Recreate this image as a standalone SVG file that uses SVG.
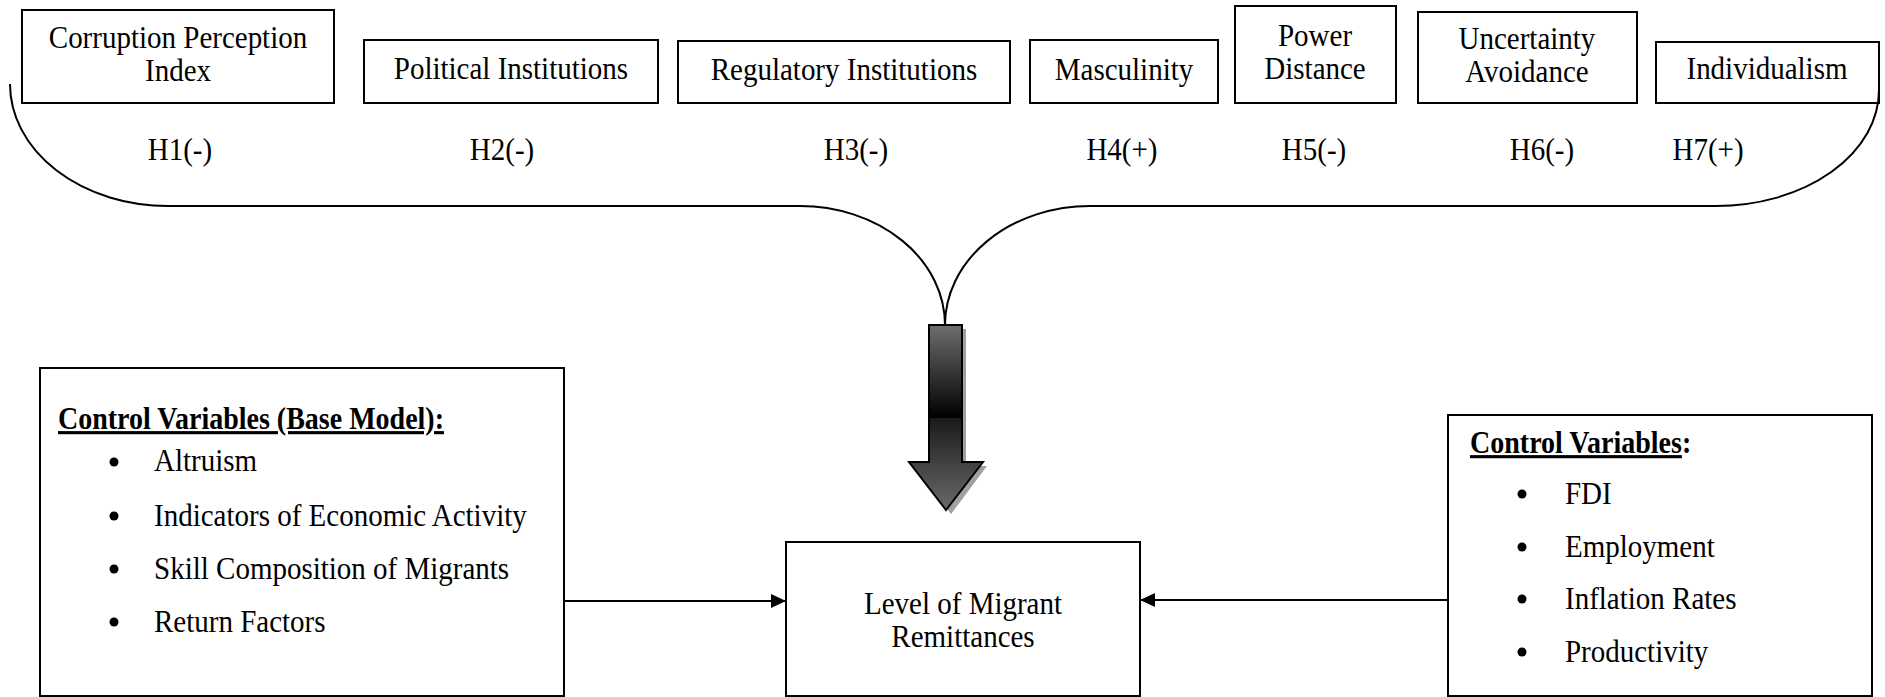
<svg xmlns="http://www.w3.org/2000/svg" width="1885" height="697" viewBox="0 0 1885 697">
<style>
.box{fill:#fff;stroke:#000;stroke-width:2}
.t{font-family:'Liberation Serif','Times New Roman',serif;font-size:32.4px;fill:#000}
.c{text-anchor:middle}
.b{font-weight:bold;font-size:31.3px}
.u{text-decoration:underline}
.conn{fill:none;stroke:#000;stroke-width:2}
.dot{fill:#000}
</style>
<defs>
<marker id="ah" markerUnits="userSpaceOnUse" markerWidth="16" markerHeight="14" refX="15" refY="7" orient="auto">
<path d="M0,0 L15,7 L0,14 Z" fill="#000"/>
</marker>
<linearGradient id="g1" gradientUnits="userSpaceOnUse" x1="0" y1="325" x2="0" y2="510">
<stop offset="0" stop-color="#6e6e6e"/>
<stop offset="0.5" stop-color="#000"/>
<stop offset="0.505" stop-color="#1a1a1a"/>
<stop offset="1" stop-color="#6a6a6a"/>
</linearGradient>
</defs>

<g id="n1"><rect class="box" x="22" y="10" width="312" height="93"/>
<text class="t c" transform="scale(0.895 1)" x="198.9" y="48">Corruption Perception</text>
<text class="t c" transform="scale(0.895 1)" x="198.9" y="81">Index</text></g>
<g id="n2"><rect class="box" x="364" y="40" width="294" height="63"/>
<text class="t c" transform="scale(0.895 1)" x="570.9" y="79">Political Institutions</text></g>
<g id="n3"><rect class="box" x="678" y="41" width="332" height="62"/>
<text class="t c" transform="scale(0.895 1)" x="943" y="80">Regulatory Institutions</text></g>
<g id="n4"><rect class="box" x="1030" y="40" width="188" height="63"/>
<text class="t c" transform="scale(0.895 1)" x="1255.9" y="80">Masculinity</text></g>
<g id="n5"><rect class="box" x="1235" y="6" width="161" height="97"/>
<text class="t c" transform="scale(0.895 1)" x="1469.3" y="46">Power</text>
<text class="t c" transform="scale(0.895 1)" x="1469.3" y="79">Distance</text></g>
<g id="n6"><rect class="box" x="1418" y="12" width="219" height="91"/>
<text class="t c" transform="scale(0.895 1)" x="1706.1" y="49">Uncertainty</text>
<text class="t c" transform="scale(0.895 1)" x="1706.1" y="82">Avoidance</text></g>
<g id="n7"><rect class="box" x="1656" y="42" width="223" height="61"/>
<text class="t c" transform="scale(0.895 1)" x="1974.3" y="79">Individualism</text></g>

<g id="hyp">
<text class="t c" transform="scale(0.895 1)" x="201.1" y="160">H1(-)</text>
<text class="t c" transform="scale(0.895 1)" x="560.9" y="160">H2(-)</text>
<text class="t c" transform="scale(0.895 1)" x="956.4" y="160">H3(-)</text>
<text class="t c" transform="scale(0.895 1)" x="1253.6" y="160">H4(+)</text>
<text class="t c" transform="scale(0.895 1)" x="1468.2" y="160">H5(-)</text>
<text class="t c" transform="scale(0.895 1)" x="1722.9" y="160">H6(-)</text>
<text class="t c" transform="scale(0.895 1)" x="1908.4" y="160">H7(+)</text>
</g>

<g id="brace">
<path class="conn" d="M10,84 A158,122 0 0 0 168,206 L800,206 A145,119 0 0 1 945,325"/>
<path class="conn" d="M1879,90 A163,116 0 0 1 1716,206 L1090,206 A145,119 0 0 0 945,325"/>
</g>

<g id="bigarrow">
<path d="M933,329 L966,329 L966,466 L987,466 L951,514 L915,466 L933,466 Z" fill="#888" opacity="0.8"/>
<path d="M929,325 L962,325 L962,462 L983,462 L946,510 L909,462 L929,462 Z" fill="url(#g1)" stroke="#000" stroke-width="2"/>
</g>

<g id="left">
<rect class="box" x="40" y="368" width="524" height="328"/>
<text class="t b u" transform="scale(0.895 1)" x="64.8" y="429">Control Variables (Base Model):</text>
<circle class="dot" cx="114" cy="462" r="4.5"/><text class="t" transform="scale(0.895 1)" x="172.1" y="471">Altruism</text>
<circle class="dot" cx="114" cy="516" r="4.5"/><text class="t" transform="scale(0.895 1)" x="172.1" y="526">Indicators of Economic Activity</text>
<circle class="dot" cx="114" cy="569" r="4.5"/><text class="t" transform="scale(0.895 1)" x="172.1" y="579">Skill Composition of Migrants</text>
<circle class="dot" cx="114" cy="622" r="4.5"/><text class="t" transform="scale(0.895 1)" x="172.1" y="632">Return Factors</text>
</g>

<g id="center">
<rect class="box" x="786" y="542" width="354" height="154"/>
<text class="t c" transform="scale(0.895 1)" x="1076" y="614">Level of Migrant</text>
<text class="t c" transform="scale(0.895 1)" x="1076" y="647">Remittances</text>
</g>

<g id="right">
<rect class="box" x="1448" y="415" width="424" height="281"/>
<text class="t b" transform="scale(0.895 1)" x="1642.5" y="453"><tspan class="u">Control Variables</tspan>:</text>
<circle class="dot" cx="1522" cy="494" r="4.5"/><text class="t" transform="scale(0.895 1)" x="1748.6" y="504">FDI</text>
<circle class="dot" cx="1522" cy="547" r="4.5"/><text class="t" transform="scale(0.895 1)" x="1748.6" y="557">Employment</text>
<circle class="dot" cx="1522" cy="599" r="4.5"/><text class="t" transform="scale(0.895 1)" x="1748.6" y="609">Inflation Rates</text>
<circle class="dot" cx="1522" cy="652" r="4.5"/><text class="t" transform="scale(0.895 1)" x="1748.6" y="662">Productivity</text>
</g>

<g id="connectors">
<line class="conn" x1="564" y1="601" x2="786" y2="601" marker-end="url(#ah)"/>
<line class="conn" x1="1448" y1="600" x2="1140" y2="600" marker-end="url(#ah)"/>
</g>
</svg>
